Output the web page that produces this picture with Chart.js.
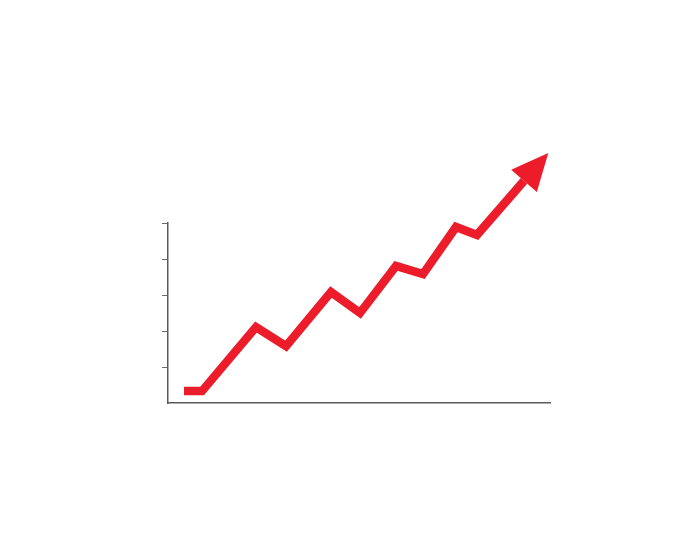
<!DOCTYPE html>
<html>
<head>
<meta charset="utf-8">
<script src="https://cdn.jsdelivr.net/npm/chart.js@4/dist/chart.umd.min.js"></script>
<style>
  html, body { margin: 0; padding: 0; background: #fff; }
  #wrap { width: 700px; height: 560px; }
</style>
</head>
<body>
<div id="wrap"><canvas id="growthChart"></canvas></div>
<script>
// x positions of each step along the axis, and the value at each
const steps = [16, 34, 88, 118, 163, 192, 228, 255, 288, 309, 356];
const values = [0.33, 0.33, 2.11, 1.58, 3.08, 2.5, 3.81, 3.58, 4.89, 4.67, 6.17];
const yTicks = [1, 2, 3, 4, 5];

const red = '#ec1c2a';

// draws the arrow head at the end of the line, pointing along the last segment
const arrowHead = {
  id: 'arrowHead',
  afterDatasetsDraw(chart) {
    const pts = chart.getDatasetMeta(0).data;
    const a = pts[pts.length - 2], b = pts[pts.length - 1];
    const dx = b.x - a.x, dy = b.y - a.y;
    const len = Math.hypot(dx, dy);
    const ux = dx / len, uy = dy / len;
    const headLen = 37, half = 17;
    const ctx = chart.ctx;
    ctx.save();
    ctx.fillStyle = red;
    ctx.beginPath();
    ctx.moveTo(b.x + ux * headLen, b.y + uy * headLen);
    ctx.lineTo(b.x - uy * half, b.y + ux * half);
    ctx.lineTo(b.x + uy * half, b.y - ux * half);
    ctx.closePath();
    ctx.fill();
    ctx.restore();
  }
};

const ctx = document.getElementById('growthChart').getContext('2d');
new Chart(ctx, {
  type: 'line',
  data: {
    datasets: [{
      data: steps.map((x, i) => ({ x: x, y: values[i] })),
      borderColor: red,
      borderWidth: 8.5,
      borderJoinStyle: 'miter',
      borderCapStyle: 'butt',
      pointRadius: 0,
      tension: 0,
      clip: false
    }]
  },
  options: {
    responsive: true,
    maintainAspectRatio: false,
    animation: false,
    layout: { padding: { left: 162, right: 150, top: 223, bottom: 157 } },
    plugins: {
      legend: { display: false },
      tooltip: { enabled: false }
    },
    scales: {
      x: {
        type: 'linear',
        min: 0,
        max: 382,
        grid: { display: false },
        ticks: { display: false },
        border: { color: '#5a5a5a', width: 1.5 },
        afterFit: s => { s.height = 0; }
      },
      y: {
        min: 0,
        max: 5,
        afterBuildTicks: s => { s.ticks = yTicks.map(v => ({ value: v })); },
        grid: { drawOnChartArea: false, drawTicks: true, tickLength: 6, color: '#6a6a6a', lineWidth: 1 },
        ticks: { display: false },
        border: { color: '#5a5a5a', width: 1.5 },
        afterFit: s => { s.width = 6; }
      }
    }
  },
  plugins: [arrowHead]
});
</script>
</body>
</html>
